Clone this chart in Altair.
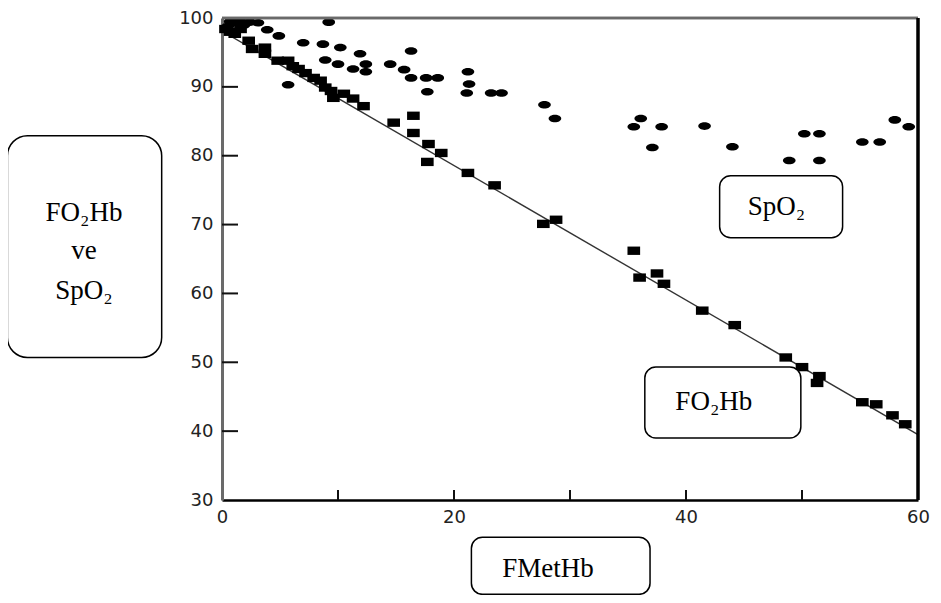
import altair as alt
import pandas as pd

# ---------------- data ----------------
# SpO2 readings (dots): FMetHb % vs SpO2 %
spo2_fmethb = [0.5, 0.7, 1.2, 1.6, 1.9, 2.4, 3.1, 3.9, 4.9, 5.7, 7.0, 8.7, 8.9, 9.2,
               10.0, 10.2, 11.3, 11.9, 12.4, 12.4, 14.5, 15.7, 16.3, 16.3, 17.6, 17.7,
               18.6, 21.2, 21.3, 21.1, 23.2, 24.1, 27.8, 28.7, 35.5, 36.1, 37.1, 37.9,
               41.6, 44.0, 48.9, 50.2, 51.5, 51.5, 55.2, 56.7, 58.0, 59.2]
spo2_value = [98.8, 99.5, 99.3, 99.5, 99.0, 99.4, 99.3, 98.3, 97.4, 90.3, 96.4, 96.2, 93.9, 99.4,
              93.3, 95.7, 92.6, 94.8, 92.2, 93.3, 93.3, 92.5, 95.2, 91.3, 91.3, 89.3,
              91.3, 92.2, 90.4, 89.1, 89.1, 89.1, 87.4, 85.4, 84.2, 85.4, 81.2, 84.2,
              84.3, 81.3, 79.3, 83.2, 83.2, 79.3, 82.0, 82.0, 85.2, 84.2]

# FO2Hb measurements (squares): FMetHb % vs FO2Hb %
fo2hb_fmethb = [0.3, 0.7, 1.1, 1.6, 2.3, 2.6, 3.7, 3.7, 4.8, 5.7, 6.1, 6.6, 7.2, 7.9, 8.5,
                8.9, 9.4, 9.6, 10.5, 11.3, 12.2, 14.8, 16.5, 16.5, 17.8, 18.9, 17.7, 21.2,
                23.5, 27.7, 28.8, 35.5, 36.0, 37.5, 38.1, 41.4, 44.2, 48.6, 50.0, 51.5,
                51.3, 55.2, 56.4, 57.8, 58.9]
fo2hb_value = [98.4, 98.0, 97.7, 98.4, 96.7, 95.5, 95.7, 94.8, 93.8, 93.8, 93.0, 92.6, 92.0, 91.3, 90.9,
               89.9, 89.4, 88.4, 89.0, 88.3, 87.2, 84.8, 85.8, 83.3, 81.7, 80.4, 79.1, 77.5,
               75.7, 70.1, 70.7, 66.2, 62.3, 62.9, 61.4, 57.5, 55.4, 50.7, 49.3, 48.0,
               47.0, 44.2, 43.9, 42.3, 41.0]

# fitted line for FO2Hb
line_fmethb = [0, 60]
line_value = [98.1, 39.5]

# axis ticks
x_ticks = [10, 20, 30, 40, 50]
x_labels = [0, 20, 40, 60]
y_ticks = [40, 50, 60, 70, 80, 90]
y_labels = [30, 40, 50, 60, 70, 80, 90, 100]

# annotation texts
note_texts = ["FO\u2082Hb", "ve", "SpO\u2082", "SpO\u2082", "FO\u2082Hb", "FMetHb"]

# ---------------- layout (annotation placement, in axis units) ----------------
note_x = [-11.9, -11.9, -11.9, 47.8, 42.4, 28.1]
note_y = [71.7, 66.2, 60.4, 72.5, 44.2, 20.0]
box_x1 = [-18.5, 42.9, 36.45, 21.5]
box_x2 = [-5.2, 53.5, 49.9, 36.9]
box_y1 = [82.9, 77.1, 49.3, 24.6]
box_y2 = [50.7, 68.1, 39.0, 16.3]

W, H = 696, 482

pts = pd.DataFrame({
    "fmethb": spo2_fmethb + fo2hb_fmethb,
    "value": spo2_value + fo2hb_value,
    "series": ["SpO2"] * len(spo2_fmethb) + ["FO2Hb"] * len(fo2hb_fmethb),
})
line_df = pd.DataFrame({"fmethb": line_fmethb, "value": line_value})
xt_df = pd.DataFrame({"t": x_ticks})
yt_df = pd.DataFrame({"t": y_ticks})
notes_df = pd.DataFrame({"x": note_x, "y": note_y, "text": note_texts})
boxes_df = pd.DataFrame({"x1": box_x1, "x2": box_x2, "y1": box_y1, "y2": box_y2})

xscale = alt.Scale(domain=[0, 60], nice=False, zero=False)
yscale = alt.Scale(domain=[30, 100], nice=False, zero=False)

x_axis = alt.Axis(values=x_labels, title=None, grid=False, ticks=False,
                  domainColor="#000", domainWidth=2.5, labelFont="DejaVu Sans",
                  labelFontSize=18, labelColor="#222", labelPadding=8, labelFlush=False)
y_axis = alt.Axis(values=y_labels, title=None, grid=False, ticks=False,
                  domainColor="#6a6a6a", domainWidth=3, labelFont="DejaVu Sans",
                  labelFontSize=18, labelColor="#222", labelPadding=9, labelFlush=False)

ellipse = "M -1 0 A 1 0.6 0 1 0 1 0 A 1 0.6 0 1 0 -1 0 Z"
rectangle = "M -1 -0.66 L 1 -0.66 L 1 0.66 L -1 0.66 Z"

points = alt.Chart(pts).mark_point(filled=True, opacity=1, color="black").encode(
    x=alt.X("fmethb:Q", scale=xscale, axis=x_axis),
    y=alt.Y("value:Q", scale=yscale, axis=y_axis),
    shape=alt.Shape("series:N", scale=alt.Scale(domain=["SpO2", "FO2Hb"],
                                                range=[ellipse, rectangle]), legend=None),
    size=alt.value(160),
)

fit = alt.Chart(line_df).mark_line(color="#333", strokeWidth=1.4).encode(
    x=alt.X("fmethb:Q", scale=xscale),
    y=alt.Y("value:Q", scale=yscale),
)

xt = alt.Chart(xt_df).mark_rule(color="#111", strokeWidth=2).encode(
    x=alt.X("t:Q", scale=xscale), y=alt.value(H), y2=alt.value(H - 10))
yt = alt.Chart(yt_df).mark_rule(color="#111", strokeWidth=2).encode(
    y=alt.Y("t:Q", scale=yscale), x=alt.value(0), x2=alt.value(16))

right_border = alt.Chart(line_df).mark_rule(color="#000", strokeWidth=3).encode(
    x=alt.value(W), y=alt.value(0), y2=alt.value(H))
top_border = alt.Chart(line_df).mark_rule(color="#6a6a6a", strokeWidth=2.5).encode(
    x=alt.value(0), x2=alt.value(W), y=alt.value(0))

boxes_big = alt.Chart(boxes_df.iloc[:1]).mark_rect(
    fill="white", stroke="black", strokeWidth=1.5, cornerRadius=20).encode(
    x=alt.X("x1:Q", scale=xscale), x2="x2:Q",
    y=alt.Y("y1:Q", scale=yscale), y2="y2:Q")
boxes_small = alt.Chart(boxes_df.iloc[1:]).mark_rect(
    fill="white", stroke="black", strokeWidth=1.5, cornerRadius=11).encode(
    x=alt.X("x1:Q", scale=xscale), x2="x2:Q",
    y=alt.Y("y1:Q", scale=yscale), y2="y2:Q")

notes = alt.Chart(notes_df).mark_text(
    font="Liberation Serif", fontSize=27, color="black", align="center", baseline="middle").encode(
    x=alt.X("x:Q", scale=xscale), y=alt.Y("y:Q", scale=yscale), text="text:N")

chart = alt.layer(
    fit, points, xt, yt, top_border, right_border, boxes_big, boxes_small, notes
).properties(
    width=W, height=H,
    padding={"left": 214, "top": 10, "right": 14, "bottom": 95},
    autosize=alt.AutoSizeParams(type="none"),
).configure_view(stroke=None).configure(background="white")

chart.save("out.html", embed_options={"renderer": "svg", "actions": False})
